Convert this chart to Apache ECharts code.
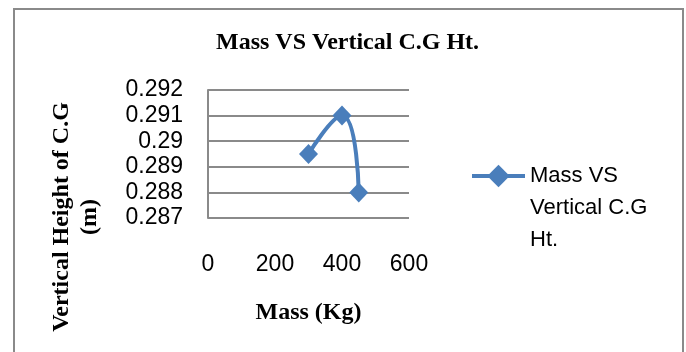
<!DOCTYPE html>
<html lang="en">
<head>
<meta charset="UTF-8">
<script src="https://cdn.jsdelivr.net/npm/echarts@6/dist/echarts.min.js"></script>
<style>
  html, body { margin: 0; padding: 0; background: #fff; }
  #main { width: 686px; height: 352px; }
</style>
</head>
<body>
<div id="main"></div>
<script type="text/javascript">
// chart data
var chartTitle = 'Mass VS Vertical C.G Ht.';
var seriesName = 'Mass VS Vertical C.G Ht.';
var massKg = [300, 400, 450];
var cgHeight = [0.2895, 0.291, 0.288];
var xTicks = [0, 200, 400, 600];
var yTicks = [0.287, 0.288, 0.289, 0.29, 0.291, 0.292];

var points = [];
for (var i = 0; i < massKg.length; i++) {
    points.push([massKg[i], cgHeight[i]]);
}

var myChart = echarts.init(document.getElementById('main'));
var gray = '#8a8a8a';
var sans = 'Liberation Sans';
var serif = 'Liberation Serif';

var option = {
    animation: false,
    title: {
        text: chartTitle,
        left: 216,
        top: 31,
        padding: 0,
        textStyle: { fontFamily: serif, fontWeight: 'bold', fontSize: 24, color: '#000' }
    },
    grid: { left: 208, top: 90, width: 201, height: 128, containLabel: false },
    legend: {
        left: 470,
        top: 96,
        padding: 0,
        itemWidth: 53,
        itemHeight: 28,
        data: [seriesName],
        lineStyle: { width: 4 },
        // two empty lines first so the first text line sits level with the icon
        formatter: function () { return '\n\nMass VS\nVertical C.G\nHt.'; },
        textStyle: { fontFamily: sans, fontSize: 22, color: '#000', lineHeight: 32 }
    },
    xAxis: {
        type: 'value',
        min: xTicks[0],
        max: xTicks[xTicks.length - 1],
        interval: 200,
        name: 'Mass (Kg)',
        nameLocation: 'middle',
        nameGap: 83,
        nameTextStyle: { fontFamily: serif, fontWeight: 'bold', fontSize: 24, color: '#000' },
        axisLine: { show: false },
        axisTick: { show: false },
        splitLine: { show: false },
        axisLabel: { margin: 35, fontFamily: sans, fontSize: 23, color: '#000' }
    },
    yAxis: {
        type: 'value',
        min: yTicks[0],
        max: yTicks[yTicks.length - 1],
        interval: 0.001,
        axisLine: { show: true, lineStyle: { color: gray, width: 2 } },
        axisTick: { show: false },
        splitLine: { show: true, lineStyle: { color: gray, width: 2 } },
        axisLabel: { margin: 25, fontFamily: sans, fontSize: 23, color: '#000' }
    },
    graphic: [
        {
            type: 'rect',
            shape: { x: 14, y: 9, width: 669, height: 400 },
            style: { fill: null, stroke: gray, lineWidth: 2 },
            silent: true
        },
        {
            type: 'text',
            x: 76,
            y: 217,
            rotation: Math.PI / 2,
            style: {
                text: 'Vertical Height of C.G\n(m)',
                fontFamily: serif,
                fontWeight: 'bold',
                fontSize: 24,
                lineHeight: 28,
                fill: '#000',
                align: 'center',
                verticalAlign: 'middle'
            }
        }
    ],
    series: [{
        name: seriesName,
        type: 'line',
        data: points,
        smooth: 0.5,
        symbol: 'diamond',
        symbolSize: [19, 20],
        itemStyle: { color: '#4a7ebb' },
        lineStyle: { color: '#4a7ebb', width: 4 }
    }]
};

myChart.setOption(option);
</script>
</body>
</html>
